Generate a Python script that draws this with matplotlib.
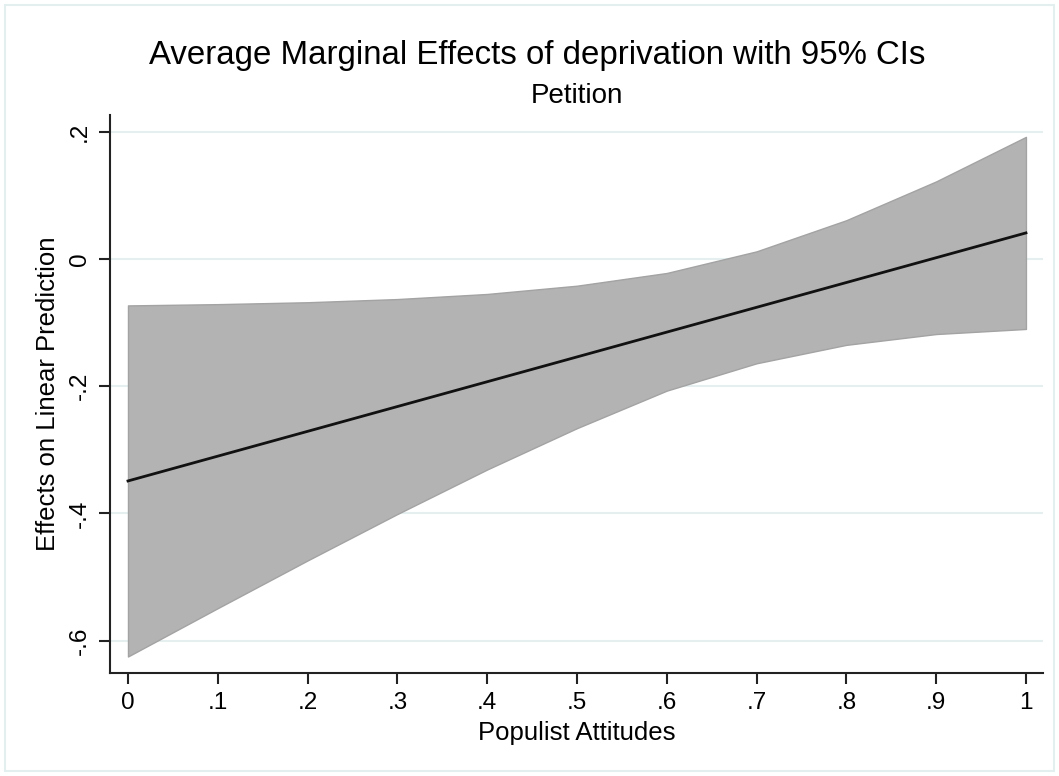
import matplotlib.pyplot as plt
from matplotlib.patches import Rectangle

plt.rcParams['font.family'] = ['Liberation Sans', 'DejaVu Sans']

# margins at each level of populist attitudes
populism = [0, .1, .2, .3, .4, .5, .6, .7, .8, .9, 1]
effect = [-0.349, -0.310, -0.271, -0.232, -0.193, -0.154, -0.115, -0.076, -0.037, 0.002, 0.041]
ci_upper = [-0.073, -0.071, -0.068, -0.063, -0.055, -0.042, -0.022, 0.012, 0.061, 0.122, 0.192]
ci_lower = [-0.625, -0.549, -0.474, -0.401, -0.331, -0.266, -0.207, -0.164, -0.135, -0.118, -0.110]

xticks = [0, .1, .2, .3, .4, .5, .6, .7, .8, .9, 1]
xlabels = ['0', '.1', '.2', '.3', '.4', '.5', '.6', '.7', '.8', '.9', '1']
yticks = [.2, 0, -.2, -.4, -.6]
ylabels = ['.2', '0', '-.2', '-.4', '-.6']

fig = plt.figure(figsize=(10.59, 7.76), dpi=100)
fig.patches.append(Rectangle((0.005, 0.006), 0.99, 0.988, transform=fig.transFigure,
                             fill=False, edgecolor='#e3eeee', linewidth=1.5))
ax = fig.add_axes([0.1039, 0.1327, 0.881, 0.7191])

ax.fill_between(populism, ci_lower, ci_upper, facecolor='#b3b3b3',
                edgecolor='#a3a3a3', linewidth=1, zorder=2)
ax.plot(populism, effect, color='#111111', linewidth=2, zorder=3)

ax.set_xlim(-0.02, 1.019)
ax.set_ylim(-0.651, 0.2264)
ax.set_xticks(xticks)
ax.set_xticklabels(xlabels)
ax.set_yticks(yticks)
ax.set_yticklabels(ylabels, rotation=90, va='center')

ax.grid(axis='y', color='#e6eff0', linewidth=1.5, zorder=1)
ax.set_axisbelow(True)
for side in ['top', 'right']:
    ax.spines[side].set_visible(False)
for side in ['left', 'bottom']:
    ax.spines[side].set_linewidth(1.5)
    ax.spines[side].set_color('#222222')
ax.tick_params(length=8, width=1.5, color='#222222', labelsize=17.5, pad=6)

ax.set_xlabel('Populist Attitudes', fontsize=18.5, labelpad=5)
ax.set_ylabel('Effects on Linear Prediction', fontsize=18.5, labelpad=6)

fig.text(0.507, 0.928, 'Average Marginal Effects of deprivation with 95% CIs',
         ha='center', va='center', fontsize=23.8)
fig.text(0.5444, 0.876, 'Petition', ha='center', va='center', fontsize=20)

fig.savefig('out.png', dpi=100, facecolor='white')
